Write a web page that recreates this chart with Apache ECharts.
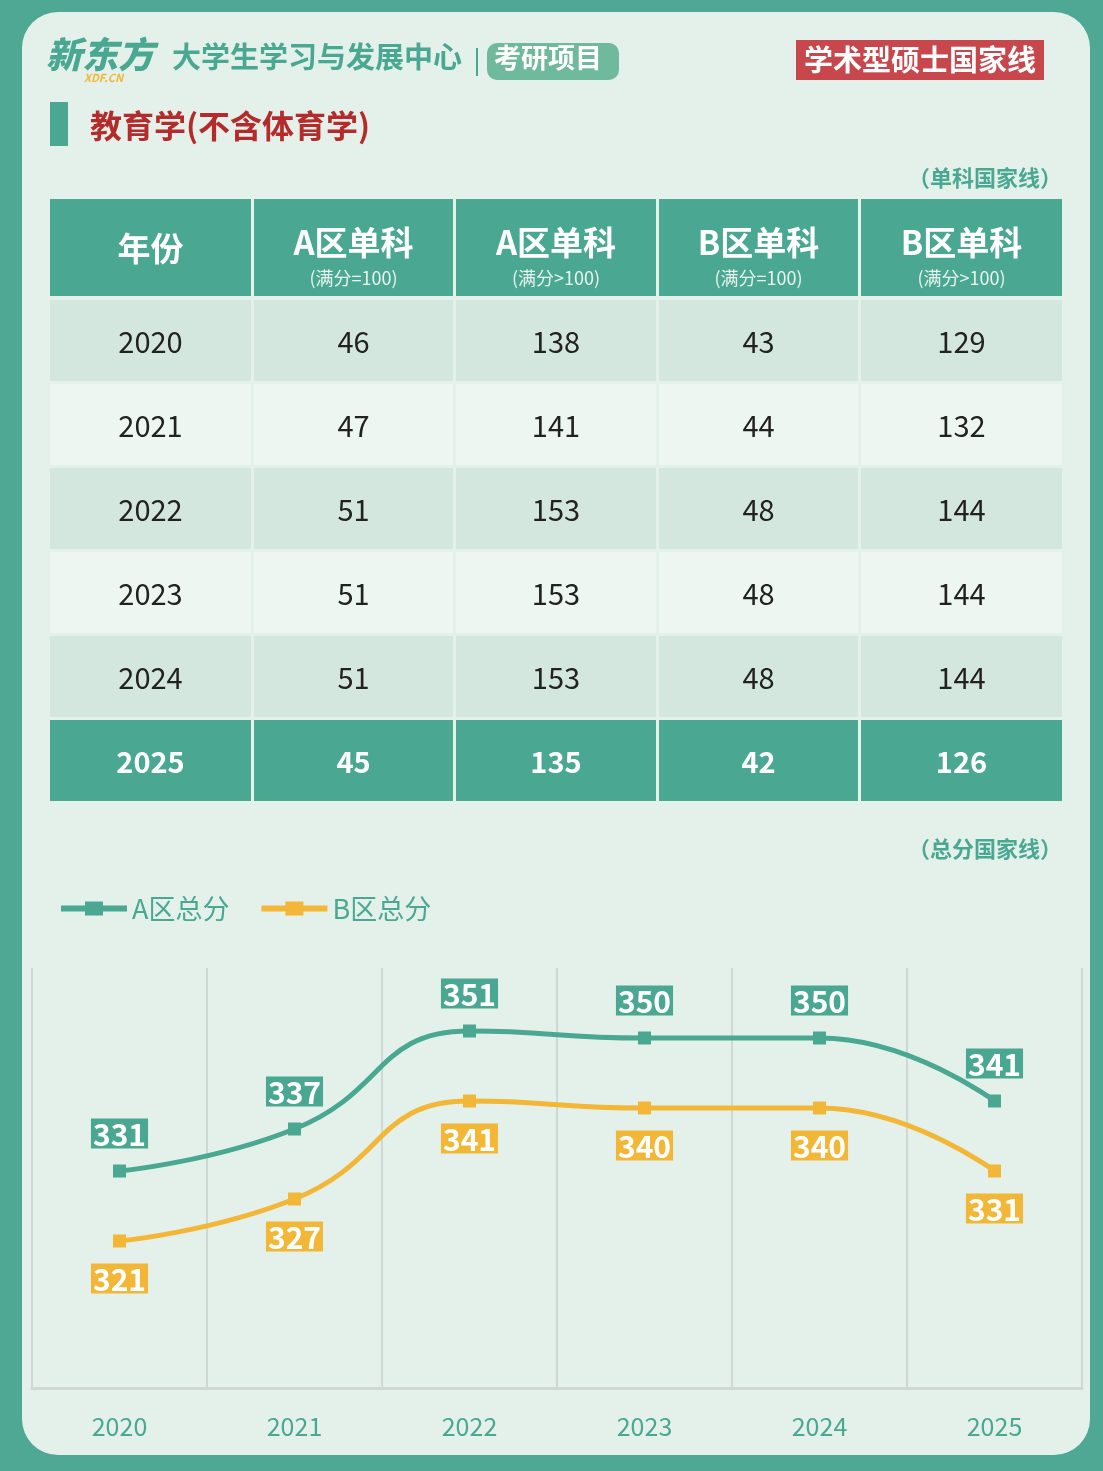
<!DOCTYPE html>
<html><head><meta charset="utf-8">
<script src="https://cdn.jsdelivr.net/npm/echarts@6/dist/echarts.min.js"></script>
<style>html,body{margin:0;padding:0;background:#4ea894}#c{width:1103px;height:1471px}</style>
</head><body><div id="c"></div>
<script>
const years = ['2020','2021','2022','2023','2024','2025'];
const aSingle100 = [46,47,51,51,51,45];
const aSingleOver = [138,141,153,153,153,135];
const bSingle100 = [43,44,48,48,48,42];
const bSingleOver = [129,132,144,144,144,126];
const aTotal = [331,337,351,350,350,341];
const bTotal = [321,327,341,340,340,331];
const headers = [['年份',''],['A区单科','(满分=100)'],['A区单科','(满分>100)'],['B区单科','(满分=100)'],['B区单科','(满分>100)']];

const F = '"Noto Sans CJK SC","Noto Sans",sans-serif';
const teal = '#4aa892', orange = '#f2b736';
const colX = [50,254,456,659,861], colW = [201,199,200,199,201];
const g = [];
g.push({type:'rect',shape:{x:22,y:12,width:1068,height:1443,r:36},style:{fill:'#e3f1ea'}});
g.push({type:'text',x:46,y:36,style:{text:'新东方',font:'italic 900 36px '+F,fill:teal}});
g.push({type:'text',x:84,y:72,style:{text:'XDF.CN',font:'italic bold 11px '+F,fill:orange}});
g.push({type:'text',x:172,y:42,style:{text:'大学生学习与发展中心',font:'bold 29px '+F,fill:teal}});
g.push({type:'rect',shape:{x:476,y:48,width:2,height:28},style:{fill:teal}});
g.push({type:'rect',shape:{x:487,y:43,width:132,height:37,r:10},style:{fill:'#6fb99d'}});
g.push({type:'text',x:494,y:44,style:{text:'考研项目',font:'bold 27px '+F,fill:'#fff'}});
g.push({type:'rect',shape:{x:796,y:40,width:248,height:40},style:{fill:'#c8474d'}});
g.push({type:'text',x:920,y:60,style:{text:'学术型硕士国家线',font:'bold 29px '+F,fill:'#fff',align:'center',verticalAlign:'middle'}});
g.push({type:'rect',shape:{x:50,y:102,width:18,height:44},style:{fill:teal}});
g.push({type:'text',x:90,y:126,style:{text:'教育学(不含体育学)',font:'bold 32px '+F,fill:'#b52a2a',verticalAlign:'middle'}});
g.push({type:'text',x:1062,y:178,style:{text:'（单科国家线）',font:'bold 22px '+F,fill:teal,align:'right',verticalAlign:'middle'}});
g.push({type:'text',x:1062,y:849,style:{text:'（总分国家线）',font:'bold 22px '+F,fill:teal,align:'right',verticalAlign:'middle'}});
for(let c=0;c<5;c++){
  g.push({type:'rect',shape:{x:colX[c],y:199,width:colW[c],height:97},style:{fill:teal}});
  const cx = colX[c]+colW[c]/2;
  if(c===0) g.push({type:'text',x:cx,y:248,style:{text:headers[c][0],font:'bold 33px '+F,fill:'#fff',align:'center',verticalAlign:'middle'}});
  else {
    g.push({type:'text',x:cx,y:242,style:{text:headers[c][0],font:'bold 33px '+F,fill:'#fff',align:'center',verticalAlign:'middle'}});
    g.push({type:'text',x:cx,y:278,style:{text:headers[c][1],font:'18px '+F,fill:'#e8f4ee',align:'center',verticalAlign:'middle'}});
  }
}
const rowTop=[300,384,468,552,636,720];
for(let r=0;r<6;r++){
  const vals=[years[r],aSingle100[r],aSingleOver[r],bSingle100[r],bSingleOver[r]];
  const last=r===5;
  const fill= last?teal:(r%2===0?'#d4e7de':'#eef6f1');
  for(let c=0;c<5;c++){
    g.push({type:'rect',shape:{x:colX[c],y:rowTop[r],width:colW[c],height:81},style:{fill}});
    g.push({type:'text',x:colX[c]+colW[c]/2,y:rowTop[r]+42,style:{text:String(vals[c]),font:(last?'bold ':'')+'29px '+F,fill:last?'#fff':'#222',align:'center',verticalAlign:'middle'}});
  }
}
const chart = echarts.init(document.getElementById('c'));
const lbl = (pos,bg)=>({show:true,position:pos,distance:16,color:'#fff',fontWeight:'bold',fontSize:30,fontFamily:F,backgroundColor:bg,padding:[1,2,-1,2]});
const icon='path://M0,4H24V0H42V4H66V10H42V14H24V10H0Z';
chart.setOption({
  animation:false,
  graphic:{elements:g},
  legend:{left:56,top:890,itemWidth:66,itemHeight:14,itemGap:32,textStyle:{fontSize:27,color:teal,fontFamily:F},
    data:[{name:'A区总分',icon},{name:'B区总分',icon}]},
  grid:{left:32,right:21,top:968,bottom:83},
  xAxis:{type:'category',data:years,boundaryGap:true,
    axisLine:{lineStyle:{color:'#cfd8d4',width:3}},axisTick:{show:false},
    axisLabel:{color:teal,fontSize:25,margin:26,fontFamily:F},
    splitLine:{show:true,lineStyle:{color:'#cfd8d4',width:2}}},
  yAxis:{type:'value',min:300,max:360,show:false,splitLine:{show:false}},
  series:[
    {name:'A区总分',type:'line',smooth:0.5,data:aTotal,color:teal,lineStyle:{width:5},symbol:'rect',symbolSize:13,z:3,label:lbl('top','#4aa892')},
    {name:'B区总分',type:'line',smooth:0.5,data:bTotal,color:orange,lineStyle:{width:5},symbol:'rect',symbolSize:13,z:3,label:lbl('bottom','#f2b736')}
  ]
});
</script></body></html>
